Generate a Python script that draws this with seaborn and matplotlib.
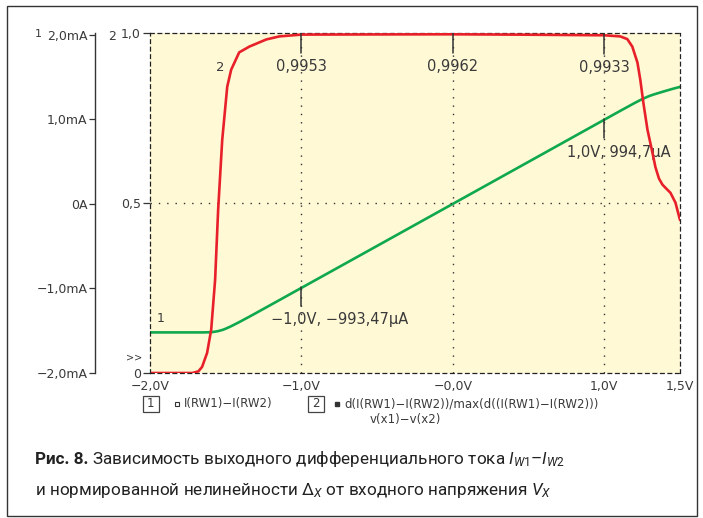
import matplotlib
matplotlib.use("Agg")
import matplotlib.pyplot as plt
from matplotlib import font_manager
from matplotlib.patches import Rectangle
from matplotlib.lines import Line2D
import seaborn as sns

# Differential output current I(RW1)-I(RW2), mA, against v(x1)-v(x2), V
v_current = [-2.0, -1.8, -1.65, -1.6, -1.58, -1.55, -1.52, -1.5, -1.47, -1.45,
             -1.42, -1.4, -1.35, -1.3, -1.2, -1.0, -0.5, 0.0, 0.5, 1.0,
             1.1, 1.2, 1.25, 1.28, 1.3, 1.33, 1.35, 1.4, 1.45, 1.5]
i_current = [-1.52, -1.52, -1.52, -1.518, -1.514, -1.505, -1.49, -1.476, -1.452, -1.434,
             -1.407, -1.388, -1.34, -1.291, -1.192, -0.99347, -0.497, 0.0, 0.497, 0.9947,
             1.094, 1.192, 1.238, 1.262, 1.277, 1.295, 1.306, 1.333, 1.359, 1.383]

# Normalised nonlinearity d(I)/max(d(I))
v_deriv = [-2.0, -1.72, -1.68, -1.656, -1.623, -1.596, -1.57, -1.55, -1.523, -1.49,
           -1.464, -1.411, -1.344, -1.232, -1.146, -1.0, -0.5, 0.0, 0.5, 1.0,
           1.106, 1.152, 1.185, 1.219, 1.238, 1.258, 1.285, 1.318, 1.338, 1.361,
           1.384, 1.41, 1.437, 1.47, 1.5]
d_norm = [0.0, 0.0, 0.005, 0.018, 0.059, 0.127, 0.274, 0.48, 0.686, 0.842,
          0.892, 0.943, 0.960, 0.981, 0.990, 0.9953, 0.9958, 0.9962, 0.9950, 0.9933,
          0.990, 0.982, 0.960, 0.913, 0.862, 0.795, 0.716, 0.648, 0.605, 0.572,
          0.554, 0.542, 0.530, 0.501, 0.45]

x_ticks = [-2.0, -1.0, 0.0, 1.0, 1.5]
x_tick_labels = ["−2,0V", "−1,0V", "−0,0V", "1,0V", "1,5V"]
ma_ticks = [-2, -1, 0, 1, 2]
ma_tick_labels = ["−2,0mA", "−1,0mA", "0A", "1,0mA", "2,0mA"]
norm_ticks = [0.0, 0.5, 1.0]
norm_tick_labels = ["0", "0,5", "1,0"]

# cursor readouts of the normalised curve
cursor_v = [-1.0, 0.0, 1.0]
cursor_d = [0.9953, 0.9962, 0.9933]
# cursor readouts of the current curve
probe_v = [-1.0, 1.0]
probe_i = [-0.99347, 0.9947]
probe_labels = ["−1,0V, −993,47µA", "1,0V, 994,7µA"]

legend_names = ["I(RW1)−I(RW2)", "d(I(RW1)−I(RW2))/max(d((I(RW1)−I(RW2)))"]
legend_sub = "v(x1)−v(x2)"

caption_bold = "Рис. 8."
caption_line1 = "Зависимость выходного дифференциального тока $I_{W1}$–$I_{W2}$"
caption_line2 = "и нормированной нелинейности $Δ_X$ от входного напряжения $V_X$"

GREEN = "#10a84c"
RED = "#e8202a"
INK = "#3a3a3a"
PANEL = "#fff9d6"


def first_available(names):
    for name in names:
        try:
            font_manager.findfont(font_manager.FontProperties(family=name),
                                  fallback_to_default=False)
            return name
        except ValueError:
            continue
    return "DejaVu Sans"


sns.set_theme(style="white")
plt.rcParams["font.family"] = ["DejaVu Sans"]

cap_family = first_available(["DejaVu Sans Condensed", "Liberation Sans Narrow", "Roboto"])
plt.rcParams["mathtext.fontset"] = "custom"
plt.rcParams["mathtext.rm"] = cap_family
plt.rcParams["mathtext.it"] = cap_family + ":italic"

W, H = 703, 518
fig = plt.figure(figsize=(W / 100, H / 100), dpi=100)
fig.patch.set_facecolor("white")


def fx(px):
    return px / W


def fy(py):
    return 1 - py / H


# outer frame
fig.add_artist(Rectangle((fx(7), fy(516)), fx(690), 510 / H, transform=fig.transFigure,
                         fill=False, edgecolor="#333333", linewidth=1.0))

ax = fig.add_axes([fx(150), fy(373), fx(530), 340 / H])
ax.set_facecolor(PANEL)
ax2 = ax.twinx()
ax2.patch.set_visible(False)

# current curve on the mA axis
sns.lineplot(x=v_current, y=i_current, ax=ax, color=GREEN, linewidth=1.9, estimator=None)
# normalised curve on the 0..1 axis, drawn on top
sns.lineplot(x=v_deriv, y=d_norm, ax=ax2, color=RED, linewidth=1.9, estimator=None)

ax.set_xlim(-2.0, 1.5)
ax.set_ylim(-2.0, 2.02)
ax2.set_ylim(0.0, 1.0)
ax.set_xlabel("")
ax.set_ylabel("")
ax2.set_ylabel("")

dash = (0, (3, 3))
dot = (0, (1, 5))

# mA axis: solid spine pushed out to the left
for side in ("top", "bottom", "right"):
    ax.spines[side].set_linestyle(dash)
    ax.spines[side].set_color("#222222")
    ax.spines[side].set_linewidth(0.9)
ax.spines["left"].set_position(("outward", 55 * 0.72))
ax.spines["left"].set_color("#333333")
ax.spines["left"].set_linewidth(1.0)
ax.set_yticks(ma_ticks)
ax.set_yticklabels(ma_tick_labels)
ax.tick_params(axis="y", which="both", left=True, direction="out", length=4, width=0.9,
               color="#333333", pad=1.5, labelsize=9, labelcolor=INK)
ax.set_xticks(x_ticks)
ax.set_xticklabels(x_tick_labels)
ax.tick_params(axis="x", which="both", bottom=True, direction="out", length=0,
               pad=5, labelsize=9, labelcolor=INK)

# normalised axis: dashed spine on the panel edge
for side in ("top", "bottom", "right"):
    ax2.spines[side].set_visible(False)
ax2.spines["left"].set_visible(True)
ax2.spines["left"].set_linestyle(dash)
ax2.spines["left"].set_color("#222222")
ax2.spines["left"].set_linewidth(0.9)
ax2.yaxis.set_ticks_position("left")
ax2.yaxis.set_label_position("left")
ax2.set_yticks(norm_ticks)
ax2.set_yticklabels(norm_tick_labels)
ax2.tick_params(axis="y", which="both", left=True, right=False, labelleft=True,
                labelright=False, direction="out", length=5, width=0.9,
                color="#333333", pad=1.5, labelsize=9, labelcolor=INK)

# dotted grid
for v in [-1.0, 0.0, 1.0]:
    ax.axvline(v, color="#333333", linestyle=dot, linewidth=1.0, zorder=1)
ax2.axhline(0.5, color="#333333", linestyle=dot, linewidth=1.0, zorder=1)

# cursor marks on the normalised curve
for v, d in zip(cursor_v, cursor_d):
    ax2.plot([v, v], [d + 0.005, d - 0.055], color="#333333", linewidth=1.1, zorder=4)
    ax2.text(v, d - 0.095, f"{d:.4f}".replace(".", ","), ha="center", va="center",
             fontsize=10.5, color=INK, zorder=5)

# cursor marks on the current curve
label_anchor = [(-1.199, -1.373), (0.755, 0.604)]
for v, i, lab, (tx, ty) in zip(probe_v, probe_i, probe_labels, label_anchor):
    ax.plot([v, v], [i + 0.01, i - 0.22], color="#333333", linewidth=1.1, zorder=4)
    ax.text(tx, ty, lab, ha="left", va="center", fontsize=10.5, color=INK, zorder=3)

# curve numbers
ax2.text(-1.955, 0.14, "1", ha="left", va="bottom", fontsize=9, color=INK)
ax2.text(-1.536, 0.898, "2", ha="center", va="center", fontsize=9.5, color=INK)
ax2.text(-2.105, 0.045, ">>", ha="center", va="center", fontsize=7, color=INK,
         clip_on=False)

# axis numbers above the scales
fig.text(fx(38), fy(37), "1", ha="center", va="baseline", fontsize=8, color=INK)
fig.text(fx(112), fy(40), "2", ha="center", va="baseline", fontsize=9, color=INK)


# legend row under the plot
def boxed_number(cx, cy, s):
    fig.add_artist(Rectangle((fx(cx - 8), fy(cy + 8)), fx(16), 16 / H,
                             transform=fig.transFigure, fill=False,
                             edgecolor="#444444", linewidth=0.9))
    fig.text(fx(cx), fy(cy), s, ha="center", va="center", fontsize=8.5, color=INK)


boxed_number(150.5, 403.5, "1")
fig.add_artist(Line2D([fx(177)], [fy(404)], transform=fig.transFigure, marker="s",
                      markersize=3.5, markerfacecolor="white", markeredgecolor="#333333",
                      markeredgewidth=0.8, linestyle="none"))
fig.text(fx(184), fy(404), legend_names[0], ha="left", va="center", fontsize=8.5, color=INK)

boxed_number(316, 403.5, "2")
fig.add_artist(Line2D([fx(337)], [fy(404)], transform=fig.transFigure, marker="s",
                      markersize=3.5, markerfacecolor="#333333", markeredgecolor="#333333",
                      linestyle="none"))
fig.text(fx(344), fy(404), legend_names[1], ha="left", va="center", fontsize=8.5, color=INK)
fig.text(fx(370), fy(420), legend_sub, ha="left", va="center", fontsize=8.5, color=INK)

# caption
cap_size = 13.5 if cap_family != "Roboto" else 12.3
t1 = fig.text(fx(35), fy(464), caption_bold, ha="left", va="baseline", fontsize=cap_size,
              fontweight="bold", family=[cap_family, "DejaVu Sans"], color="#222222")
fig.canvas.draw()
bb = t1.get_window_extent()
fig.text(fx(bb.x1 + 4), fy(464), caption_line1,
         ha="left", va="baseline", fontsize=cap_size, family=[cap_family, "DejaVu Sans"],
         color="#222222")
fig.text(fx(35), fy(495), caption_line2,
         ha="left", va="baseline", fontsize=cap_size, family=[cap_family, "DejaVu Sans"],
         color="#222222")

fig.savefig("out.png", dpi=100, facecolor="white")
